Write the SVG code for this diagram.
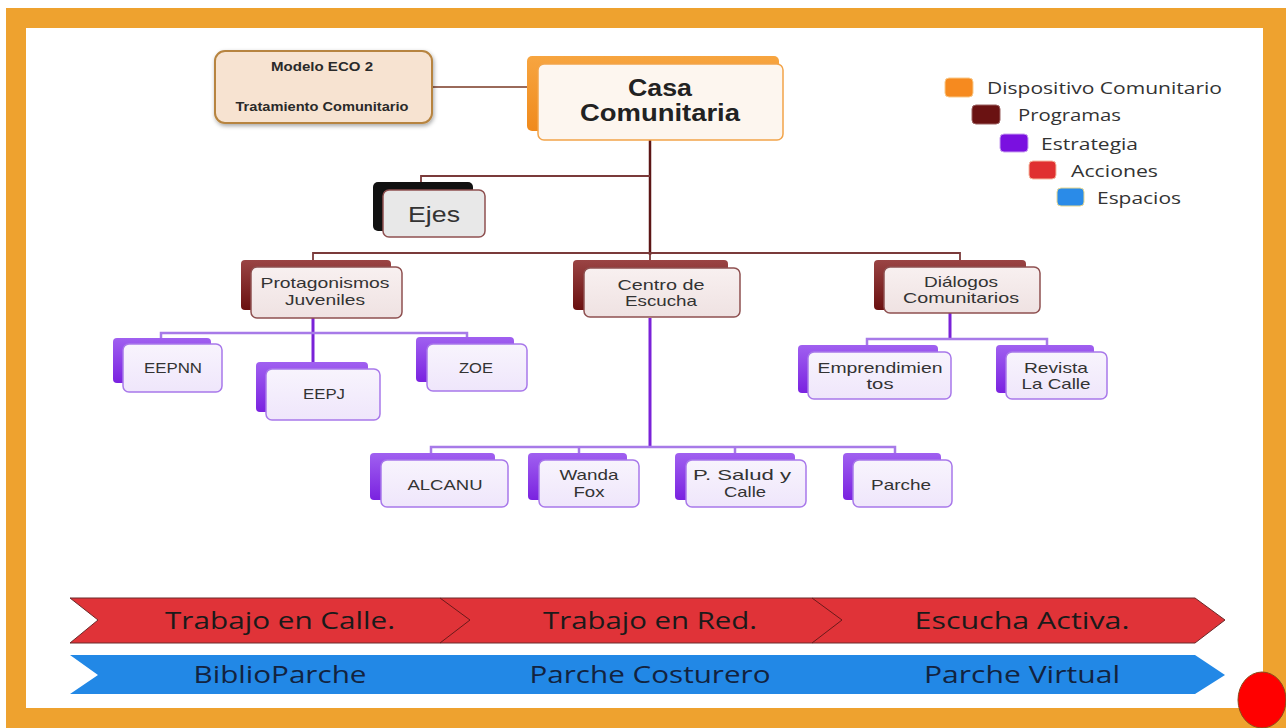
<svg xmlns="http://www.w3.org/2000/svg" width="1286" height="728" viewBox="0 0 1286 728">
<defs>
<linearGradient id="gOr" x1="0" y1="0" x2="0" y2="1"><stop offset="0" stop-color="#f7a540"/><stop offset="1" stop-color="#f08a1c"/></linearGradient>
<linearGradient id="gPg" x1="0" y1="0" x2="0" y2="1"><stop offset="0" stop-color="#9a4444"/><stop offset="1" stop-color="#6a1010"/></linearGradient>
<linearGradient id="gSt" x1="0" y1="0" x2="0" y2="1"><stop offset="0" stop-color="#a060f0"/><stop offset="1" stop-color="#7a22e0"/></linearGradient>
<linearGradient id="gPgF" x1="0" y1="0" x2="0" y2="1"><stop offset="0" stop-color="#f8f0f0"/><stop offset="1" stop-color="#efe2e2"/></linearGradient>
<linearGradient id="gStF" x1="0" y1="0" x2="0" y2="1"><stop offset="0" stop-color="#f8f4fd"/><stop offset="1" stop-color="#efe6fb"/></linearGradient>
<filter id="sh" x="-10%" y="-10%" width="130%" height="140%"><feDropShadow dx="1" dy="2" stdDeviation="2" flood-color="#000" flood-opacity="0.35"/></filter>
</defs>
<style>
.t{font-family:"Liberation Sans",Arial,sans-serif;fill:#333;text-anchor:middle}
.n{font-size:15px}
.lg{font-family:"Open Sans","Liberation Sans",sans-serif;font-size:17px;fill:#333}
.bd{font-family:"Open Sans","Liberation Sans",sans-serif;font-size:23px;fill:#1a1a1a;text-anchor:middle}
.bb{font-family:"Open Sans","Liberation Sans",sans-serif;font-size:23px;fill:#12233f;text-anchor:middle}
.dcB{fill:url(#gOr)}
.dcF{fill:#fdf6ef;stroke:#f2a44a;stroke-width:1.5}
.pgB{fill:url(#gPg)}
.pgF{fill:url(#gPgF);stroke:#8e5050;stroke-width:1.5}
.stB{fill:url(#gSt)}
.stF{fill:url(#gStF);stroke:#a878ea;stroke-width:1.5}
.cm{fill:none;stroke:#5c1515;stroke-width:2.5}
.cp{fill:none;stroke:#7a3a3a;stroke-width:1.8}
.cs{fill:none;stroke:#7a22d8;stroke-width:3}
.cl{fill:none;stroke:#a77ae8;stroke-width:2.5}
</style>
<rect x="6" y="8" width="1280" height="720" fill="#eea22f"/>
<rect x="26" y="28" width="1237" height="680" fill="#ffffff"/>

<g id="connectors">
<line x1="432" y1="87" x2="527" y2="87" stroke="#9a6a5a" stroke-width="2"/>
<line x1="650" y1="140" x2="650" y2="255" class="cm"/>
<polyline points="421,183 421,176 650,176" class="cp"/>
<polyline points="313,261 313,253 960,253 960,261" class="cp"/>
<line x1="650" y1="253" x2="650" y2="268" class="cp"/>
<line x1="650" y1="318" x2="650" y2="447" class="cs"/>
<line x1="313" y1="318" x2="313" y2="362" class="cs"/>
<polyline points="161,339 161,333 467,333 467,338" class="cl"/>
<line x1="950" y1="313" x2="950" y2="339" class="cs"/>
<polyline points="867,346 867,339 1047,339 1047,346" class="cl"/>
<polyline points="431,454 431,447 895,447 895,454" class="cl"/>
<line x1="579" y1="447" x2="579" y2="454" class="cl"/>
<line x1="735" y1="447" x2="735" y2="454" class="cl"/>
</g>

<g id="modelo">
<rect x="215" y="51" width="217" height="72" rx="10" fill="#f7e3d1" stroke="#b7843f" stroke-width="2" filter="url(#sh)"/>
<text x="322" y="71" class="t" style="font-size:12px;font-weight:bold;fill:#2a2a2a" textLength="102" lengthAdjust="spacingAndGlyphs">Modelo ECO 2</text>
<text x="322" y="111" class="t" style="font-size:12px;font-weight:bold;fill:#2a2a2a" textLength="173" lengthAdjust="spacingAndGlyphs">Tratamiento Comunitario</text>
</g>

<g id="casa">
<rect x="527" y="56" width="252" height="75" rx="5" class="dcB"/>
<rect x="538" y="64" width="245" height="76" rx="6" class="dcF"/>
<text x="660" y="96" class="t" style="font-size:23px;font-weight:bold;fill:#222" textLength="64" lengthAdjust="spacingAndGlyphs">Casa</text>
<text x="660" y="121" class="t" style="font-size:23px;font-weight:bold;fill:#222" textLength="160" lengthAdjust="spacingAndGlyphs">Comunitaria</text>
</g>

<g id="ejes">
<rect x="373" y="182" width="100" height="49" rx="5" fill="#111"/>
<rect x="383" y="190" width="102" height="47" rx="6" fill="#e8e8e8" stroke="#8e5050" stroke-width="1.5"/>
<text x="434" y="222" class="t" style="font-size:22px;fill:#333" textLength="52" lengthAdjust="spacingAndGlyphs">Ejes</text>
</g>

<g id="protagonismos">
<rect x="241" y="260" width="150" height="50" rx="4" class="pgB"/>
<rect x="251" y="267" width="151" height="51" rx="6" class="pgF"/>
<text x="325" y="288" class="t n" textLength="129" lengthAdjust="spacingAndGlyphs">Protagonismos</text>
<text x="325" y="305" class="t n" textLength="80" lengthAdjust="spacingAndGlyphs">Juveniles</text>
</g>

<g id="centro">
<rect x="573" y="260" width="155" height="50" rx="4" class="pgB"/>
<rect x="584" y="268" width="156" height="49" rx="6" class="pgF"/>
<text x="661" y="290" class="t n" textLength="87" lengthAdjust="spacingAndGlyphs">Centro de</text>
<text x="661" y="306" class="t n" textLength="72" lengthAdjust="spacingAndGlyphs">Escucha</text>
</g>

<g id="dialogos">
<rect x="874" y="260" width="152" height="50" rx="4" class="pgB"/>
<rect x="884" y="267" width="156" height="46" rx="6" class="pgF"/>
<text x="961" y="287" class="t n" textLength="74" lengthAdjust="spacingAndGlyphs">Diálogos</text>
<text x="961" y="303" class="t n" textLength="116" lengthAdjust="spacingAndGlyphs">Comunitarios</text>
</g>

<g id="eepnn">
<rect x="113" y="338" width="98" height="45" rx="4" class="stB"/>
<rect x="123" y="344" width="99" height="48" rx="6" class="stF"/>
<text x="173" y="373" class="t n" textLength="58" lengthAdjust="spacingAndGlyphs">EEPNN</text>
</g>

<g id="eepj">
<rect x="256" y="362" width="112" height="50" rx="4" class="stB"/>
<rect x="266" y="369" width="114" height="51" rx="6" class="stF"/>
<text x="324" y="399" class="t n" textLength="42" lengthAdjust="spacingAndGlyphs">EEPJ</text>
</g>

<g id="zoe">
<rect x="416" y="337" width="98" height="45" rx="4" class="stB"/>
<rect x="427" y="344" width="100" height="47" rx="6" class="stF"/>
<text x="476" y="373" class="t n" textLength="34" lengthAdjust="spacingAndGlyphs">ZOE</text>
</g>

<g id="emprendimientos">
<rect x="798" y="345" width="140" height="48" rx="4" class="stB"/>
<rect x="808" y="352" width="143" height="47" rx="6" class="stF"/>
<text x="880" y="373" class="t n" textLength="125" lengthAdjust="spacingAndGlyphs">Emprendimien</text>
<text x="880" y="389" class="t n" textLength="27" lengthAdjust="spacingAndGlyphs">tos</text>
</g>

<g id="revista">
<rect x="996" y="345" width="98" height="48" rx="4" class="stB"/>
<rect x="1006" y="352" width="101" height="47" rx="6" class="stF"/>
<text x="1056" y="373" class="t n" textLength="64" lengthAdjust="spacingAndGlyphs">Revista</text>
<text x="1056" y="389" class="t n" textLength="69" lengthAdjust="spacingAndGlyphs">La Calle</text>
</g>

<g id="alcanu">
<rect x="370" y="453" width="125" height="47" rx="4" class="stB"/>
<rect x="381" y="460" width="127" height="47" rx="6" class="stF"/>
<text x="445" y="490" class="t n" textLength="75" lengthAdjust="spacingAndGlyphs">ALCANU</text>
</g>

<g id="wanda">
<rect x="528" y="453" width="99" height="47" rx="4" class="stB"/>
<rect x="539" y="460" width="100" height="47" rx="6" class="stF"/>
<text x="589" y="480" class="t n" textLength="59" lengthAdjust="spacingAndGlyphs">Wanda</text>
<text x="589" y="497" class="t n" textLength="31" lengthAdjust="spacingAndGlyphs">Fox</text>
</g>

<g id="psalud">
<rect x="675" y="453" width="120" height="47" rx="4" class="stB"/>
<rect x="686" y="460" width="120" height="47" rx="6" class="stF"/>
<text x="742" y="480" class="t n" textLength="98" lengthAdjust="spacingAndGlyphs">P. Salud y</text>
<text x="745" y="497" class="t n" textLength="42" lengthAdjust="spacingAndGlyphs">Calle</text>
</g>

<g id="parche">
<rect x="843" y="453" width="98" height="47" rx="4" class="stB"/>
<rect x="853" y="460" width="99" height="47" rx="6" class="stF"/>
<text x="901" y="490" class="t n" textLength="60" lengthAdjust="spacingAndGlyphs">Parche</text>
</g>

<g id="legend">
<rect x="945" y="78" width="28" height="19" rx="4" fill="#f68a1f" stroke="#f9c98a"/>
<text x="987" y="94" class="lg" textLength="235" lengthAdjust="spacingAndGlyphs">Dispositivo Comunitario</text>
<rect x="972" y="105" width="28" height="19" rx="4" fill="#6a1212" stroke="#9a6060"/>
<text x="1018" y="121" class="lg" textLength="103" lengthAdjust="spacingAndGlyphs">Programas</text>
<rect x="1000" y="134" width="28" height="18" rx="4" fill="#7a10e0" stroke="#c8a0f0"/>
<text x="1041" y="150" class="lg" textLength="97" lengthAdjust="spacingAndGlyphs">Estrategia</text>
<rect x="1029" y="161" width="27" height="18" rx="4" fill="#e03030" stroke="#f5b8a0"/>
<text x="1071" y="177" class="lg" textLength="87" lengthAdjust="spacingAndGlyphs">Acciones</text>
<rect x="1057" y="188" width="27" height="18" rx="4" fill="#2a8be8" stroke="#e8d890"/>
<text x="1097" y="204" class="lg" textLength="84" lengthAdjust="spacingAndGlyphs">Espacios</text>
</g>

<g id="acciones">
<polygon points="70,598 1195,598 1225,620 1195,643 70,643 98,620" fill="#e03338" stroke="#6a2a2a" stroke-width="1"/>
<polyline points="440,598 470,620 440,643" fill="none" stroke="#6a1a1a" stroke-width="1"/>
<polyline points="812,598 842,620 812,643" fill="none" stroke="#6a1a1a" stroke-width="1"/>
<text x="280" y="629" class="bd" textLength="230" lengthAdjust="spacingAndGlyphs">Trabajo en Calle.</text>
<text x="650" y="629" class="bd" textLength="214" lengthAdjust="spacingAndGlyphs">Trabajo en Red.</text>
<text x="1022" y="629" class="bd" textLength="215" lengthAdjust="spacingAndGlyphs">Escucha Activa.</text>
</g>

<g id="espacios">
<polygon points="70,655 1195,655 1225,675 1195,694 70,694 98,675" fill="#2288e6"/>
<text x="280" y="683" class="bb" textLength="173" lengthAdjust="spacingAndGlyphs">BiblioParche</text>
<text x="650" y="683" class="bb" textLength="241" lengthAdjust="spacingAndGlyphs">Parche Costurero</text>
<text x="1022" y="683" class="bb" textLength="196" lengthAdjust="spacingAndGlyphs">Parche Virtual</text>
</g>

<ellipse cx="1262" cy="700" rx="24" ry="28" fill="#ff0000" stroke="#8a4a1a" stroke-width="1"/>
</svg>
